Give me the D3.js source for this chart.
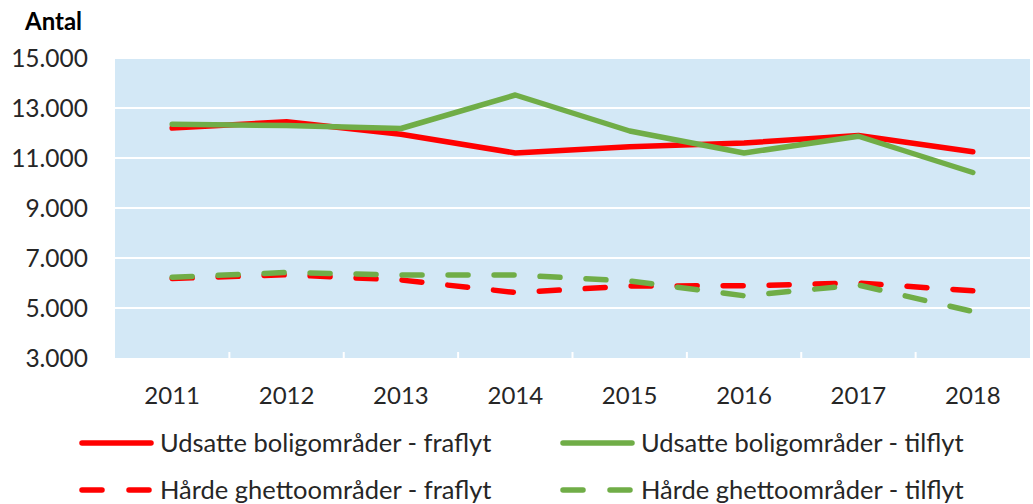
<!DOCTYPE html>
<html>
<head>
<meta charset="utf-8">
<script src="https://cdn.jsdelivr.net/npm/d3@7"></script>
<style>
  body { margin: 0; background: #fff; }
  svg { display: block; font-family: Lato, 'Open Sans', sans-serif; }
</style>
</head>
<body>
<svg id="chart" width="1033" height="504"></svg>
<script>
const years = ['2011', '2012', '2013', '2014', '2015', '2016', '2017', '2018'];
const udsatteFraflyt = [12200, 12450, 11950, 11200, 11450, 11600, 11900, 11250];
const udsatteTilflyt = [12350, 12300, 12180, 13520, 12080, 11200, 11870, 10420];
const ghettoFraflyt = [6180, 6330, 6120, 5620, 5880, 5890, 6000, 5690];
const ghettoTilflyt = [6230, 6420, 6320, 6320, 6080, 5490, 5920, 4860];
const yTicks = [3000, 5000, 7000, 9000, 11000, 13000, 15000];

const series = [
  { name: 'Udsatte boligområder - fraflyt', values: udsatteFraflyt, color: '#ff0000', dash: null },
  { name: 'Udsatte boligområder - tilflyt', values: udsatteTilflyt, color: '#70ad47', dash: null },
  { name: 'Hårde ghettoområder - fraflyt', values: ghettoFraflyt, color: '#ff0000', dash: '20,26' },
  { name: 'Hårde ghettoområder - tilflyt', values: ghettoTilflyt, color: '#70ad47', dash: '20,26' }
];

const svg = d3.select('#chart');
const plot = { left: 115, right: 1030, top: 58, bottom: 358 };

const x = d3.scaleBand().domain(years).range([plot.left, plot.right]);
const y = d3.scaleLinear().domain([3000, 15000]).range([plot.bottom, plot.top]);
const fmt = v => d3.format(',')(v).replace(/,/g, '.');

svg.append('rect')
  .attr('x', plot.left).attr('y', plot.top)
  .attr('width', plot.right - plot.left).attr('height', plot.bottom - plot.top)
  .attr('fill', '#d3e8f6');

svg.append('g').selectAll('line')
  .data(yTicks.filter(v => v > 3000))
  .join('line')
  .attr('x1', plot.left).attr('x2', plot.right)
  .attr('y1', d => y(d)).attr('y2', d => y(d))
  .attr('stroke', '#fff').attr('stroke-width', 2);

// small white ticks between categories
svg.append('g').selectAll('line')
  .data(years.slice(1))
  .join('line')
  .attr('x1', d => x(d)).attr('x2', d => x(d))
  .attr('y1', plot.bottom).attr('y2', plot.bottom - 6)
  .attr('stroke', '#fff').attr('stroke-width', 2);

svg.append('g').selectAll('text')
  .data(yTicks)
  .join('text')
  .attr('x', 88).attr('y', d => y(d))
  .attr('dy', '0.36em')
  .attr('text-anchor', 'end')
  .attr('font-size', 24.5).attr('fill', '#262626')
  .text(fmt);

svg.append('g').selectAll('text')
  .data(years)
  .join('text')
  .attr('x', d => x(d) + x.bandwidth() / 2).attr('y', 395)
  .attr('dy', '0.36em')
  .attr('text-anchor', 'middle')
  .attr('font-size', 24).attr('fill', '#262626')
  .text(d => d);

svg.append('text')
  .attr('x', 25).attr('y', 30)
  .attr('font-size', 24).attr('font-weight', 'bold').attr('fill', '#000')
  .text('Antal');

const line = d3.line()
  .x((d, i) => x(years[i]) + x.bandwidth() / 2)
  .y(d => y(d));

// dashed first, then solid on top
const drawOrder = [series[2], series[3], series[0], series[1]];
svg.append('g').selectAll('path')
  .data(drawOrder)
  .join('path')
  .attr('d', d => line(d.values))
  .attr('fill', 'none')
  .attr('stroke', d => d.color)
  .attr('stroke-width', 5.5)
  .attr('stroke-linecap', 'round')
  .attr('stroke-linejoin', 'round')
  .attr('stroke-dasharray', d => d.dash);

const legendPos = [
  { lx: 80, ty: 443 },
  { lx: 561, ty: 443 },
  { lx: 80, ty: 490 },
  { lx: 561, ty: 490 }
];
const legend = svg.append('g').selectAll('g')
  .data(series)
  .join('g')
  .attr('transform', (d, i) => `translate(${legendPos[i].lx},${legendPos[i].ty})`);

legend.append('line')
  .attr('x1', 2).attr('x2', 71)
  .attr('y1', 0).attr('y2', 0)
  .attr('stroke', d => d.color)
  .attr('stroke-width', 5.5)
  .attr('stroke-linecap', 'round')
  .attr('stroke-dasharray', d => d.dash ? '20,27' : null);

legend.append('text')
  .attr('x', 80).attr('y', 0)
  .attr('dy', '0.36em')
  .attr('font-size', 25.5).attr('fill', '#262626')
  .text(d => d.name);
</script>
</body>
</html>
